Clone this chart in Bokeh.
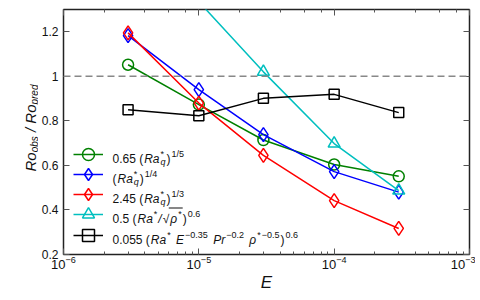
import math
from bokeh.plotting import figure
from bokeh.layouts import row
from bokeh.models import (LogAxis, LinearAxis, FixedTicker, LogTicker, Span, Label,
                          Legend, LegendItem, BoxAnnotation, CustomJSTickFormatter)
from bokeh.core.properties import value
from bokeh.embed import file_html
from bokeh.resources import INLINE

# ---------------- data ----------------
E = [3e-6, 1e-5, 3e-5, 1e-4, 3e-4]
ro_green = [1.052, 0.873, 0.714, 0.604, 0.551]   # 0.65 (Ra_q*)^(1/5)
ro_blue = [1.183, 0.940, 0.738, 0.572, 0.480]    # (Ra_q*)^(1/4)
ro_red = [1.195, 0.880, 0.645, 0.442, 0.317]     # 2.45 (Ra_q*)^(1/3)
E_cyan = [1e-5, 3e-5, 1e-4, 3e-4]
ro_cyan = [1.335, 1.020, 0.698, 0.487]           # 0.5 (Ra*/sqrt(rho*))^0.6
ro_black = [0.850, 0.823, 0.901, 0.919, 0.837]   # 0.055 (...)^0.6
ref_value = 1.0
y_ticks = [0.2, 0.4, 0.6, 0.8, 1.0, 1.2]
y_tick_labels = {1.0: "1"}

FONT = "Liberation Sans"
TXT = "#111111"

# ---------------- main figure ----------------
p = figure(frame_width=406, frame_height=245, x_axis_type="log", x_range=(1e-6, 1e-3),
           y_range=(0.2, 1.3), output_backend="svg", toolbar_location=None,
           min_border_left=22, min_border_right=6, min_border_top=9, min_border_bottom=0)
p.grid.visible = False
p.outline_line_color = "#222222"
p.outline_line_width = 1.5

xax = p.xaxis[0]
yax = p.yaxis[0]
top_ax = LogAxis(ticker=LogTicker(), formatter=CustomJSTickFormatter(code="return ''"))
right_ax = LinearAxis(ticker=FixedTicker(ticks=y_ticks), formatter=CustomJSTickFormatter(code="return ''"))
p.add_layout(top_ax, "above")
p.add_layout(right_ax, "right")

yax.ticker = FixedTicker(ticks=y_ticks)
yax.major_label_overrides = y_tick_labels

for ax in [xax, yax, top_ax, right_ax]:
    ax.axis_line_color = None
    ax.major_tick_in = 6
    ax.major_tick_out = 0
    ax.minor_tick_in = 3
    ax.minor_tick_out = 0
    ax.major_tick_line_color = "#555555"
    ax.minor_tick_line_color = "#555555"
    ax.major_label_text_font = FONT
    ax.major_label_text_font_size = "12px"
    ax.major_label_text_color = TXT
for ax in [yax, right_ax]:
    ax.minor_tick_line_color = None
for ax in [top_ax, right_ax]:
    ax.major_label_text_font_size = "0px"
    ax.major_label_standoff = 0

xax.major_label_text_font_size = "13px"
xax.major_label_standoff = 1
yax.major_label_standoff = 5
xax.axis_label = "E"
xax.axis_label_text_font = FONT
xax.axis_label_text_font_style = "italic"
xax.axis_label_text_font_size = "17px"
xax.axis_label_text_color = TXT
xax.axis_label_standoff = 1

p.add_layout(Span(location=ref_value, dimension="width", line_color="#888888",
                  line_width=1.5, line_dash="7 4"))

series = [
    (E, ro_green, "#008000", "circle", 11),
    (E, ro_blue, "#0000FF", "diamond", 14),
    (E, ro_red, "#FF0000", "diamond", 14),
    (E_cyan, ro_cyan, "#00BFBF", "triangle", 12),
    (E, ro_black, "#000000", "square", 10),
]
row_center = [100, 80, 60, 40, 19]   # legend row centres, px above frame bottom
for (xs, ys, col, mk, sz), rc in zip(series, row_center):
    ln = p.line(xs, ys, line_color=col, line_width=1.5)
    sc = p.scatter(xs, ys, marker=mk, size=sz, line_color=col, fill_alpha=0, line_width=1.5)
    lg = Legend(items=[LegendItem(label=value(" "), renderers=[ln, sc])],
                location=(10, rc - 15), glyph_width=30, glyph_height=30, label_height=30,
                label_width=0, label_standoff=0, padding=0, margin=0, spacing=0,
                border_line_color=None, background_fill_alpha=0, label_text_font_size="12px")
    p.add_layout(lg)

# ---------------- rich text helpers ----------------
W = {" ": .278, "(": .333, ")": .333, "*": .389, "-": .333, ".": .278, "/": .278,
     "E": .667, "P": .667, "R": .722, "a": .556, "b": .556, "d": .556, "e": .556,
     "o": .556, "p": .556, "q": .556, "r": .333, "s": .5, "\u2212": .584,
     "\u221a": .549, "\u03c1": .577}


def tw(s, size):
    return sum(W.get(c, .556) for c in s) * size


def lab(x, y, text, size, style="normal", angle=0.0):
    return Label(x=x, y=y, x_units="screen", y_units="screen", text=text,
                 text_font=FONT, text_font_size=f"{size}px", text_font_style=style,
                 text_color=TXT, text_baseline="alphabetic", text_align="left",
                 angle=angle)


MAIN, SUP, GAP = 12, 9, 1.0
legend_texts = [
    [("n", "0.65 ("), ("i", "Ra"), ("stack", "q", "*"), ("n", ")"), ("sup", "1/5")],
    [("n", "("), ("i", "Ra"), ("stack", "q", "*"), ("n", ")"), ("sup", "1/4")],
    [("n", "2.45 ("), ("i", "Ra"), ("stack", "q", "*"), ("n", ")"), ("sup", "1/3")],
    [("n", "0.5 ("), ("i", "Ra"), ("sup", "*"), ("i", "/"), ("n", "\u221a"), ("olstart",),
     ("i", "\u03c1"), ("sup", "*"), ("olend",), ("n", ")"), ("sup", "0.6")],
    [("n", "0.055 ("), ("i", "Ra"), ("sup", "*"), ("sp",), ("i", "E"), ("sup", "\u22120.35"),
     ("sp",), ("i", "Pr"), ("sup", "\u22120.2"), ("sp",), ("i", "\u03c1"), ("sup", "*"),
     ("sup", "\u22120.5"), ("n", ")"), ("sup", "0.6")],
]

text_x0 = 49
for pieces, rc in zip(legend_texts, row_center):
    yb = rc - 4
    x = text_x0
    ol_x = None
    for pc in pieces:
        kind = pc[0]
        if kind == "sp":
            x += tw(" ", MAIN) + GAP
        elif kind == "olstart":
            ol_x = x - 1.5
        elif kind == "olend":
            p.add_layout(BoxAnnotation(left=ol_x, right=x, bottom=yb + 10, top=yb + 11,
                                       left_units="screen", right_units="screen",
                                       bottom_units="screen", top_units="screen",
                                       fill_color=TXT, fill_alpha=1, line_color=None))
        elif kind == "n":
            p.add_layout(lab(x, yb, pc[1], MAIN))
            x += tw(pc[1], MAIN) + GAP
        elif kind == "i":
            p.add_layout(lab(x, yb, pc[1], MAIN, "italic"))
            x += tw(pc[1], MAIN) + GAP
        elif kind == "sup":
            p.add_layout(lab(x, yb + 5, pc[1], SUP))
            x += tw(pc[1], SUP) + GAP
        elif kind == "stack":
            p.add_layout(lab(x, yb - 3, pc[1], SUP, "italic"))
            p.add_layout(lab(x, yb + 5, pc[2], SUP))
            x += max(tw(pc[1], SUP), tw(pc[2], SUP)) + GAP

# ---------------- y-axis label panel: Ro_obs / Ro_pred ----------------
q = figure(width=38, height=295, output_backend="svg", toolbar_location=None,
           x_axis_location=None, y_axis_location=None, min_border=0)
q.grid.visible = False
q.outline_line_color = None
BIG, SMALL = 15, 10
ylab = [("big", "Ro"), ("small", "obs"), ("sp", None), ("big", "/"), ("sp", None),
        ("big", "Ro"), ("small", "pred")]
yy = 84          # px above the (aligned) frame bottom
for kind, t in ylab:
    if kind == "sp":
        yy += tw(" ", BIG)
    elif kind == "big":
        q.add_layout(lab(30, yy, t, BIG, "italic", angle=math.pi / 2))
        yy += tw(t, BIG)
    else:
        q.add_layout(lab(33.5, yy, t, SMALL, "italic", angle=math.pi / 2))
        yy += tw(t, SMALL)

open("out.html", "w").write(file_html(row(q, p), INLINE))
